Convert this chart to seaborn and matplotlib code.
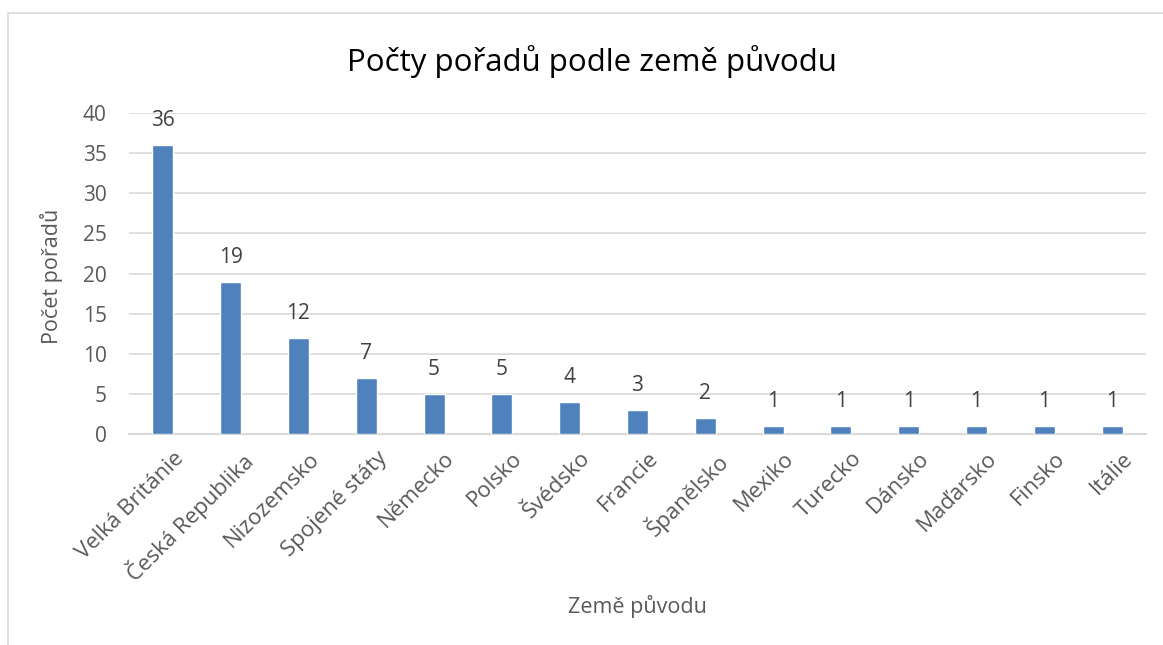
import matplotlib
matplotlib.use("Agg")
import matplotlib.pyplot as plt
import seaborn as sns
import pandas as pd
from matplotlib.patches import Rectangle

countries = ["Velká Británie", "Česká Republika", "Nizozemsko", "Spojené státy", "Německo",
             "Polsko", "Švédsko", "Francie", "Španělsko", "Mexiko", "Turecko", "Dánsko",
             "Maďarsko", "Finsko", "Itálie"]
counts = [36, 19, 12, 7, 5, 5, 4, 3, 2, 1, 1, 1, 1, 1, 1]
yticks = [0, 5, 10, 15, 20, 25, 30, 35, 40]

sns.set_theme(style="white")
plt.rcParams['font.family'] = ['Open Sans', 'DejaVu Sans']

df = pd.DataFrame({"country": countries, "count": counts})
W, H = 1163, 645
fig = plt.figure(figsize=(W / 100, H / 100), dpi=100)
ax = fig.add_axes([129 / W, 1 - 434 / H, (1146 - 129) / W, (434 - 113) / H])

sns.barplot(data=df, x="country", y="count", color="#4F81BD", saturation=1, width=0.31, ax=ax, zorder=3)

ax.set_ylim(0, 40)
ax.set_xlim(-0.5, len(countries) - 0.5)
ax.set_yticks(yticks)
ax.yaxis.grid(True, color="#D9D9D9", linewidth=1.2, zorder=0)
ax.set_axisbelow(True)
for s in ["top", "right", "left"]:
    ax.spines[s].set_visible(False)
ax.spines["bottom"].set_color("#D9D9D9")
ax.spines["bottom"].set_linewidth(1.5)
ax.tick_params(axis="both", length=0, colors="#595959", labelsize=15)
ax.tick_params(axis="y", pad=16)
ax.set_xticks(range(len(countries)))
ax.set_xticklabels(countries, rotation=45, ha="right", rotation_mode="anchor", fontsize=16)
for lbl in ax.get_xticklabels():
    lbl.set_transform(lbl.get_transform() + matplotlib.transforms.ScaledTranslation(10 / 100, -9 / 100, fig.dpi_scale_trans))

for i, v in enumerate(counts):
    ax.annotate(str(v), (i, v), xytext=(0, 10), textcoords="offset points",
                ha="center", va="bottom", fontsize=15, color="#404040")

ax.set_xlabel("Země původu", fontsize=15.5, color="#595959")
ax.xaxis.set_label_coords((637 - 129) / 1017, -0.5)
ax.set_ylabel("Počet pořadů", fontsize=15.5, color="#595959")
ax.yaxis.set_label_coords(-0.065, 0.49)

fig.text(592 / W, 1 - 62 / H, "Počty pořadů podle země původu", ha="center", va="center",
         fontsize=22.5, color="#000000")

fig.patches.append(Rectangle((8 / W, -0.1), 1.2, 1 - 13 / H + 0.1, transform=fig.transFigure,
                             fill=False, edgecolor="#D9D9D9", linewidth=1.2))

fig.savefig("out.png", dpi=100)
